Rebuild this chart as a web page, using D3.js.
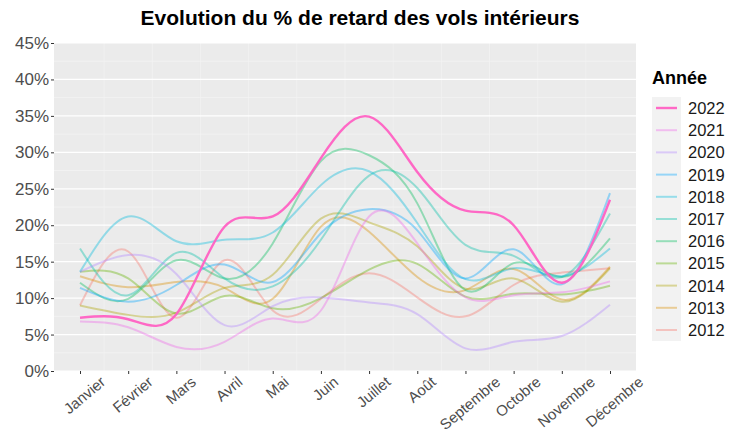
<!DOCTYPE html>
<html>
<head>
<meta charset="utf-8">
<script src="https://cdn.jsdelivr.net/npm/d3@7"></script>
<style>
  body { margin: 0; background: #fff; }
  text { font-family: "Liberation Sans", Arial, sans-serif; }
</style>
</head>
<body>
<div id="chart"></div>
<script>
"use strict";

const months = ["Janvier", "Février", "Mars", "Avril", "Mai", "Juin", "Juillet", "Août", "Septembre", "Octobre", "Novembre", "Décembre"];
const years = ["2022", "2021", "2020", "2019", "2018", "2017", "2016", "2015", "2014", "2013", "2012"];
const yTicks = [0, 5, 10, 15, 20, 25, 30, 35, 40, 45];

// % de retard par mois
const v2022 = [7.3, 7.1, 7.8, 19.8, 21.2, 29.2, 34.9, 27.3, 22.0, 20.0, 12.1, 23.5];
const v2021 = [6.8, 6.0, 3.3, 4.0, 7.2, 8.3, 21.2, 17.5, 10.1, 10.4, 10.8, 12.3];
const v2020 = [13.6, 15.9, 13.3, 6.3, 8.9, 10.1, 9.4, 7.8, 3.1, 4.0, 4.8, 9.1];
const v2019 = [11.4, 9.5, 11.8, 14.6, 12.2, 18.9, 22.2, 19.3, 12.7, 16.7, 11.9, 24.4];
const v2018 = [13.6, 21.2, 17.8, 18.0, 19.0, 25.5, 27.4, 20.3, 12.6, 14.1, 13.0, 16.8];
const v2017 = [16.8, 10.4, 16.2, 12.7, 11.6, 18.0, 26.8, 25.1, 17.3, 15.8, 12.9, 21.6];
const v2016 = [12.1, 9.9, 15.2, 12.7, 17.5, 28.8, 29.6, 23.0, 11.1, 14.8, 12.9, 18.2];
const v2015 = [13.6, 12.7, 7.9, 10.3, 8.6, 10.0, 13.9, 14.7, 10.2, 10.6, 10.5, 11.7];
const v2014 = [9.0, 7.7, 8.0, 11.4, 13.2, 20.9, 20.4, 17.1, 11.3, 12.7, 9.5, 14.1];
const v2013 = [13.0, 11.5, 12.2, 11.4, 9.9, 19.8, 19.1, 12.9, 11.1, 14.0, 9.8, 14.3];
const v2012 = [9.0, 16.4, 7.3, 15.2, 8.3, 9.9, 13.4, 10.1, 7.5, 11.8, 13.5, 14.1];

const colors = ["#FF61C3", "#EF67EB", "#B385FF", "#00A6FF", "#00BADE", "#00C1A7", "#00BD5C", "#64B200", "#AEA200", "#DB8E00", "#F8766D"];
const valuesByYear = [v2022, v2021, v2020, v2019, v2018, v2017, v2016, v2015, v2014, v2013, v2012];

const series = years.map((y, i) => ({
	year: y,
	color: colors[i],
	values: valuesByYear[i].map((v, m) => ({ m: m + 1, v: v }))
}));

const width = 735, height = 432;
const panel = { left: 54, right: 636, top: 43, bottom: 371 };

const svg = d3.select('#chart').append('svg')
	.attr('width', width)
	.attr('height', height);

const x = d3.scaleLinear().domain([1, 12]).range([80, 610]);
const y = d3.scaleLinear().domain([0, 45]).range([panel.bottom, panel.top]);

//---- Panel
svg.append('rect')
	.attr('x', panel.left).attr('y', panel.top)
	.attr('width', panel.right - panel.left)
	.attr('height', panel.bottom - panel.top)
	.attr('fill', '#EBEBEB');

const grid = svg.append('g');
grid.selectAll('.minor-y')
	.data(d3.range(2.5, 45, 5))
	.join('line')
	.attr('x1', panel.left).attr('x2', panel.right)
	.attr('y1', d => y(d)).attr('y2', d => y(d))
	.attr('stroke', '#F6F6F6').attr('stroke-width', 0.6);
grid.selectAll('.minor-x')
	.data(d3.range(1.5, 12, 1))
	.join('line')
	.attr('x1', d => x(d)).attr('x2', d => x(d))
	.attr('y1', panel.top).attr('y2', panel.bottom)
	.attr('stroke', '#F3F3F3').attr('stroke-width', 0.7);
grid.selectAll('.major-y')
	.data(yTicks)
	.join('line')
	.attr('x1', panel.left).attr('x2', panel.right)
	.attr('y1', d => y(d)).attr('y2', d => y(d))
	.attr('stroke', '#FFFFFF').attr('stroke-width', 1.2);

//---- Lines
const line = d3.line()
	.x(d => x(d.m))
	.y(d => y(d.v))
	.curve(d3.curveNatural);

svg.append('g')
	.selectAll('path')
	.data(series.slice().reverse())
	.join('path')
	.attr('d', d => line(d.values))
	.attr('fill', 'none')
	.attr('stroke', d => d.color)
	.attr('stroke-opacity', d => d.year === '2022' ? 0.95 : 0.38)
	.attr('stroke-width', d => d.year === '2022' ? 2.4 : 2);

//---- Axes
const yAxis = svg.append('g')
	.attr('transform', `translate(${panel.left},0)`)
	.call(d3.axisLeft(y).tickValues(yTicks).tickSize(3).tickPadding(2).tickFormat(d => d + '%'));
yAxis.select('.domain').remove();
yAxis.selectAll('line').attr('stroke', '#333333');
yAxis.selectAll('text')
	.attr('fill', '#4D4D4D')
	.style('font-size', '17px')
	.style('font-family', '"Liberation Sans", Arial, sans-serif');

const xAxis = svg.append('g')
	.attr('transform', `translate(0,${panel.bottom})`)
	.call(d3.axisBottom(x).tickValues(d3.range(1, 13)).tickSize(3).tickFormat(d => months[d - 1]));
xAxis.select('.domain').remove();
xAxis.selectAll('line').attr('stroke', '#333333');

// labels tournés, centrés sous le tick, haut aligné sous l'axe
const labelSize = 15, angle = 40;
const rad = angle * Math.PI / 180;
xAxis.selectAll('text')
	.attr('fill', '#4D4D4D')
	.style('font-size', labelSize + 'px')
	.style('font-family', '"Liberation Sans", Arial, sans-serif')
	.attr('text-anchor', 'middle')
	.attr('y', 0)
	.attr('dy', '0.35em')
	.each(function() {
		const len = this.getComputedTextLength();
		const h = len * Math.sin(rad) + labelSize * 0.8 * Math.cos(rad);
		d3.select(this).attr('transform', `translate(4,${4 + h / 2}) rotate(${-angle})`);
	});

//---- Title
svg.append('text')
	.attr('x', 360)
	.attr('y', 25)
	.attr('text-anchor', 'middle')
	.style('font-size', '21px')
	.style('font-weight', 'bold')
	.text('Evolution du % de retard des vols intérieurs');

//---- Legend
const legend = svg.append('g');
legend.append('text')
	.attr('x', 652)
	.attr('y', 84)
	.style('font-size', '18px')
	.style('font-weight', 'bold')
	.text('Année');

legend.append('rect')
	.attr('x', 652).attr('y', 97)
	.attr('width', 29).attr('height', 244)
	.attr('fill', '#F2F2F2');

const items = legend.selectAll('.item')
	.data(series)
	.join('g')
	.attr('transform', (d, i) => `translate(0,${108 + i * 22.2})`);
items.append('line')
	.attr('x1', 656).attr('x2', 677)
	.attr('stroke', d => d.color)
	.attr('stroke-opacity', d => d.year === '2022' ? 0.95 : 0.38)
	.attr('stroke-width', d => d.year === '2022' ? 2.4 : 2);
items.append('text')
	.attr('x', 688)
	.attr('dy', '0.36em')
	.style('font-size', '16.5px')
	.attr('fill', '#1A1A1A')
	.text(d => d.year);
</script>
</body>
</html>
